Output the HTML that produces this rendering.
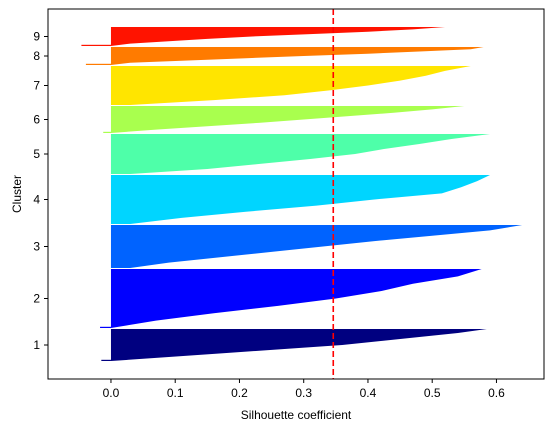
<!DOCTYPE html>
<html><head><meta charset="utf-8"><style>
body{margin:0;background:#fff;}
svg{display:block;font-family:"Liberation Sans","DejaVu Sans",sans-serif;}
</style></head><body>
<svg id="chart" width="554" height="432" viewBox="0 0 554 432">
<g id="plot"></g>
<g id="axes"></g>
</svg>
<script>
const clusterLabels = ["1","2","3","4","5","6","7","8","9"];
const clusterSizes = [32,59,43,49,40,27,39,18,19];
const clusterColors = ["#000080","#0000ff","#0063ff","#00d5ff","#4effa9","#a9ff4e","#ffe500","#ff7b00","#ff1300"];
// silhouette values per cluster, from top row (max) to bottom row (min)
const profile1 = [0.585,0.54,0.48,0.42,0.36,0.27,0.18,0.09,-0.015];
const profile2 = [0.577,0.54,0.47,0.42,0.35,0.26,0.16,0.07,-0.017];
const profile3 = [0.64,0.59,0.50,0.41,0.33,0.25,0.17,0.09,0.03];
const profile4 = [0.59,0.57,0.545,0.515,0.41,0.32,0.21,0.11,0.03];
const profile5 = [0.59,0.53,0.48,0.425,0.38,0.31,0.23,0.15,0.03];
const profile6 = [0.55,0.50,0.44,0.37,0.30,0.23,0.15,0.07,-0.012];
const profile7 = [0.56,0.52,0.49,0.45,0.40,0.34,0.27,0.16,0.03];
const profile8 = [0.58,0.56,0.48,0.40,0.30,0.21,0.12,0.03,-0.039];
const profile9 = [0.52,0.47,0.40,0.31,0.22,0.15,0.09,0.03,-0.046];
const profiles = [profile1,profile2,profile3,profile4,profile5,profile6,profile7,profile8,profile9];
const avgScore = [0.346];
const xTicks = [0,0.1,0.2,0.3,0.4,0.5,0.6];
const xTickLabels = ["0.0","0.1","0.2","0.3","0.4","0.5","0.6"];

const NS="http://www.w3.org/2000/svg";
const L=48,R=544,T=9,B=379;
const xMin=-0.098,xMax=0.674,yMin=-18,yMax=352,gap=1;
const sx=v=>L+(v-xMin)/(xMax-xMin)*(R-L);
const sy=v=>B-(v-yMin)/(yMax-yMin)*(B-T);
function mk(tag,attrs,parent){const e=document.createElementNS(NS,tag);for(const k in attrs)e.setAttribute(k,attrs[k]);parent.appendChild(e);return e;}
const plot=document.getElementById('plot'),axes=document.getElementById('axes');

let yLower=0;const centers=[];
profiles.forEach((p,i)=>{
  const size=clusterSizes[i],yUpper=yLower+size;
  const pts=[[sx(0),sy(yUpper)]];
  p.forEach((v,j)=>{const yy=yUpper-j*size/(p.length-1);pts.push([sx(Math.max(v,0)),sy(yy)]);});
  pts.push([sx(0),sy(yLower)]);
  const poly=mk('polygon',{points:pts.map(q=>q.join(',')).join(' '),fill:clusterColors[i]},plot);
  
  
  const last=p[p.length-1];
  if(last<0){
    const r=mk('rect',{x:sx(last),y:sy(yLower)-1.2,width:sx(0)-sx(last),height:1.2,fill:clusterColors[i]},plot);
    
    
  }
  centers.push(yLower+size/2);
  yLower=yUpper+gap;
});

const avg=mk('line',{x1:sx(avgScore[0]),x2:sx(avgScore[0]),y1:T,y2:B,stroke:'#ff0000','stroke-width':1.6,'stroke-dasharray':'6,3'},plot);



const frame=mk('rect',{x:L,y:T,width:R-L,height:B-T,fill:'none',stroke:'#000','stroke-width':1},axes);



xTicks.forEach((v,i)=>{
  const x=sx(v);
  mk('line',{x1:x,x2:x,y1:B,y2:B+4,stroke:'#000'},axes);
  const t=mk('text',{x:x,y:B+18,'text-anchor':'middle','font-size':12,fill:'#000'},axes);
  t.textContent=xTickLabels[i];
  
  
});
centers.forEach((c,i)=>{
  const y=sy(c);
  mk('line',{x1:L-4,x2:L,y1:y,y2:y,stroke:'#000'},axes);
  const t=mk('text',{x:L-8,y:y+4,'text-anchor':'end','font-size':12,fill:'#000'},axes);
  t.textContent=clusterLabels[i];
  
  
});
const xt=mk('text',{x:(L+R)/2,y:419,'text-anchor':'middle','font-size':12,fill:'#000'},axes);
xt.textContent='Silhouette coefficient';


const yt=mk('text',{x:0,y:0,'text-anchor':'middle','font-size':12,fill:'#000',transform:'translate(21,194) rotate(-90)'},axes);
yt.textContent='Cluster';


</script>
</body></html>
